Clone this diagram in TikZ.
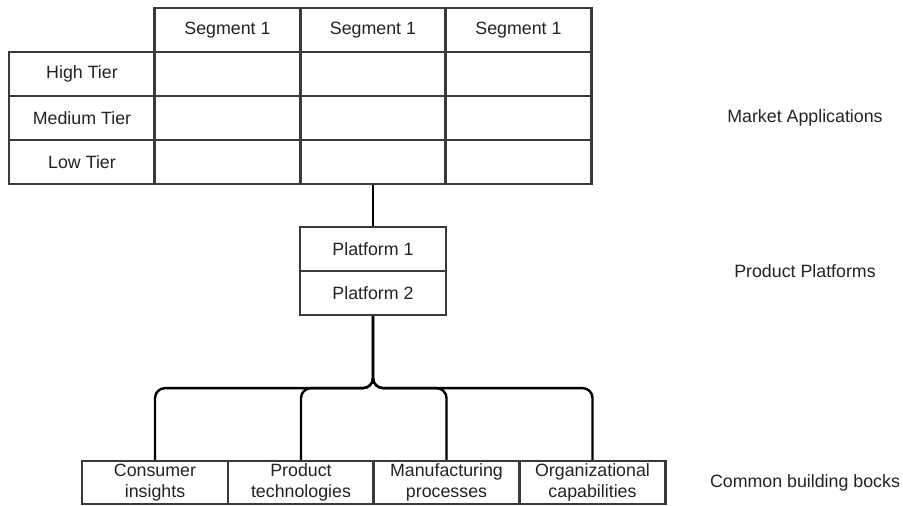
\documentclass[tikz,border=0pt]{standalone}
\usepackage{fontspec}
\setmainfont{Liberation Sans}
\usepackage{tikz}

\definecolor{linegray}{HTML}{3A3A3A}
\definecolor{textgray}{HTML}{222222}
\newcommand\diagfont{\fontsize{17.8}{21}\selectfont}

\begin{document}
\begin{tikzpicture}[x=1pt,y=-1pt,
    cell/.style={draw=linegray,line width=2.2pt,minimum width=146pt,minimum height=44pt,
                 inner sep=0pt,font=\diagfont,text=textgray,align=center},
    block/.style={cell,minimum height=43pt},
    link/.style={draw=black,line width=2.4pt,rounded corners=10pt},
    tag/.style={font=\diagfont,text=textgray}]
\useasboundingbox (0,0) rectangle (903,506);
% market applications
\foreach \x/\n in {227.5/1,373/2,518.5/3}
  \node[cell] (seg\n) at (\x,30) {Segment 1};
\foreach \y/\n/\t in {74/1/High Tier,118/2/Medium Tier,162/3/Low Tier} {
  \node[cell] (tier\n) at (82,\y) {\t};
  \foreach \x/\m in {227.5/1,373/2,518.5/3}
    \node[cell] (c\n\m) at (\x,\y) {};
}
% product platforms
\node[cell] (plat1) at (373,249) {Platform 1};
\node[cell] (plat2) at (373,293) {Platform 2};
% building blocks
\node[block] (blk1) at (155,482.5) {Consumer\\insights};
\node[block] (blk2) at (301,482.5) {Product\\technologies};
\node[block] (blk3) at (446.5,482.5) {Manufacturing\\processes};
\node[block] (blk4) at (592.5,482.5) {Organizational\\capabilities};
% connectors
\draw[link] (c32.south) -- (plat1.north);
\foreach \b in {blk1,blk2,blk3,blk4}
  \draw[link] (plat2.south) -- ++(0,72) -| (\b.north);
% level names
\node[tag] (mkt) at (805,118) {Market Applications};
\node[tag] (prd) at (805,271) {Product Platforms};
\node[tag] (cbb) at (805,483) {Common building bocks};
\end{tikzpicture}
\end{document}
